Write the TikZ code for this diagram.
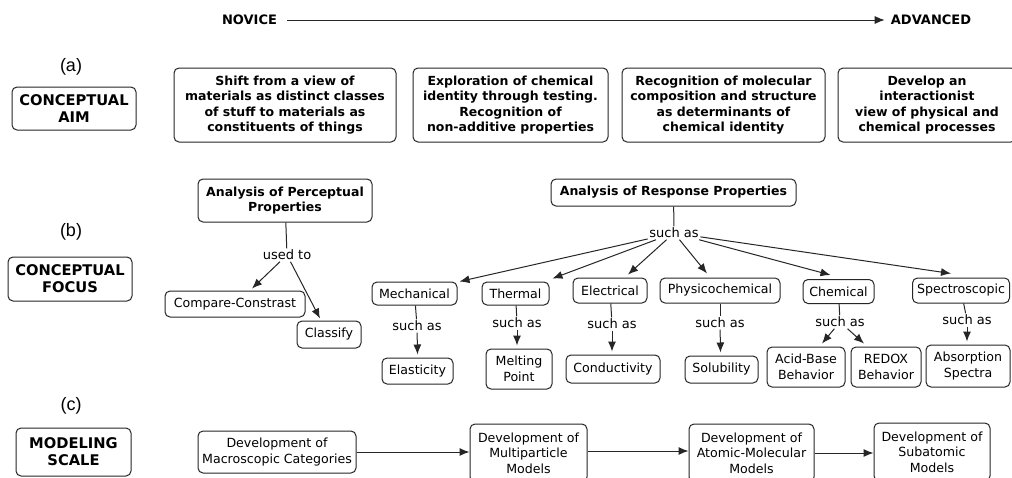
\documentclass[tikz,border=0pt]{standalone}
\usepackage{fontspec}
\setmainfont{DejaVu Sans}
\newfontfamily\arialf{Liberation Sans}
\usetikzlibrary{arrows.meta,calc}
\begin{document}
\begin{tikzpicture}[x=1pt,y=-1pt,
  box/.style={draw=black!85, line width=1pt, rounded corners=5pt, align=center, inner sep=0pt, font=\fontsize{12.6}{15.5}\selectfont},
  bbox/.style={box, font=\fontsize{12.5}{15.3}\selectfont\bfseries},
  lbl/.style={box, font=\fontsize{14.7}{17}\selectfont\bfseries},
  sz/.style 2 args={minimum width=#1pt, minimum height=#2pt},
  lnk/.style={font=\fontsize{13}{15}\selectfont, inner sep=1.5pt},
  arr/.style={draw=black!85, line width=1pt, -{Latex[length=10pt,width=8pt]}},
  ln/.style={draw=black!85, line width=1pt},
  part/.style={font=\arialf\fontsize{18}{20}\selectfont},
  head/.style={font=\fontsize{13}{15}\selectfont\bfseries, inner sep=0pt}
]
\useasboundingbox (0,0) rectangle (1012,477);
\fill[white] (0,0) rectangle (1012,477);
\clip (0,0) rectangle (1012,477);

% header
\node[head] (nov) at (249.5,20) {NOVICE};
\node[head] (adv) at (931,20) {ADVANCED};
\draw[arr] ([xshift=10pt]nov.east) -- ([xshift=-6pt]adv.west);

% row a
\node[part] (pa) at (71,67) {(a)};
\node[lbl, sz={124}{43}] (aim) at (74,108.5) {CONCEPTUAL\\AIM};
\node[bbox, sz={222}{74}] (b1) at (285,105) {Shift from a view of\\materials as distinct classes\\of stuff to materials as\\constituents of things};
\node[bbox, sz={195}{74}] (b2) at (510.5,105) {Exploration of chemical\\identity through testing.\\Recognition of\\non-additive properties};
\node[bbox, sz={203}{74}] (b3) at (723.5,105) {Recognition of molecular\\composition and structure\\as determinants of\\chemical identity};
\node[bbox, sz={178}{74}] (b4) at (927,105) {Develop an\\interactionist\\view of physical and\\chemical processes};

% row b
\node[part] (pb) at (71,232) {(b)};
\node[lbl, sz={124}{44}] (focus) at (70,279) {CONCEPTUAL\\FOCUS};
\node[bbox, sz={174}{43}] (perc) at (285,200.5) {Analysis of Perceptual\\Properties};
\node[lnk] (usedto) at (287,255) {used to};
\node[box, sz={140}{26}] (compare) at (235,304) {Compare-Constrast};
\node[box, sz={64}{27}] (classify) at (329,334.5) {Classify};
\draw[ln] (perc) -- (usedto);
\draw[arr] (usedto) -- ($(compare.north)+(17,-2)$);
\draw[arr] (usedto) -- ($(classify.north)+(-9,-2)$);

\node[bbox, sz={245}{27}] (resp) at (673.5,192.5) {Analysis of Response Properties};
\node[lnk] (sa) at (674,233) {such as};
\draw[ln] (resp) -- (sa);

\node[box, sz={85}{23}] (mech) at (414.5,293.5) {Mechanical};
\node[box, sz={67}{23}] (therm) at (515.5,293.5) {Thermal};
\node[box, sz={74}{25}] (elec) at (610,290.5) {Electrical};
\node[box, sz={120}{25}] (phys) at (720,290.5) {Physicochemical};
\node[box, sz={71}{24}] (chem) at (838.5,291.5) {Chemical};
\node[box, sz={97}{25}] (spec) at (961,290.5) {Spectroscopic};

\draw[arr] (sa) -- ($(mech.north east)+(2,0)$);
\draw[arr] (sa) -- ($(therm.north east)+(3,-3)$);
\draw[arr] (sa) -- ($(elec.north)+(18,-3)$);
\draw[arr] (sa) -- ($(phys.north)+(-13,-4)$);
\draw[arr] (sa) -- ($(chem.north)+(-8,-4)$);
\draw[arr] (sa) -- ($(spec.north)+(-10,-4)$);

\node[lnk] (s1) at (417,326) {such as};
\node[lnk] (s2) at (517,323) {such as};
\node[lnk] (s3) at (612,324) {such as};
\node[lnk] (s4) at (720,323) {such as};
\node[lnk] (s5) at (840,322) {such as};
\node[lnk] (s6) at (967,320) {such as};

\node[box, sz={71}{26}] (elast) at (417.5,371) {Elasticity};
\node[box, sz={66}{40}] (melt) at (519,369) {Melting\\Point};
\node[box, sz={94}{28}] (cond) at (613,369) {Conductivity};
\node[box, sz={73}{27}] (solub) at (721.5,369.5) {Solubility};
\node[box, sz={78}{40}] (acid) at (806,367) {Acid-Base\\Behavior};
\node[box, sz={70}{40}] (redox) at (886,367) {REDOX\\Behavior};
\node[box, sz={84}{42}] (absorp) at (968,366) {Absorption\\Spectra};

\draw[ln] (mech) -- (s1);
\draw[ln] (therm) -- (s2);
\draw[ln] (elec) -- (s3);
\draw[ln] (phys) -- (s4);
\draw[ln] (chem) -- (s5);
\draw[ln] (spec) -- (s6);
\draw[arr] (s1) -- ($(elast.north)+(0,-3)$);
\draw[arr] (s2) -- ($(melt.north)+(-2,-3)$);
\draw[arr] (s3) -- ($(cond.north)+(-1,-3)$);
\draw[arr] (s4) -- ($(solub.north)+(-1,-3)$);
\draw[arr] (s5) -- ($(acid.north)+(16,-3)$);
\draw[arr] (s5) -- ($(redox.north)+(-22,-3)$);
\draw[arr] (s6) -- ($(absorp.north)+(-1,-3)$);

% row c
\node[part] (pc) at (71,406) {(c)};
\node[lbl, sz={115}{48}] (model) at (73.5,452) {MODELING\\SCALE};
\node[box, sz={158}{42}] (macro) at (277,452) {Development of\\Macroscopic Categories};
\node[box, sz={117}{58}] (multi) at (528.5,453) {Development of\\Multiparticle\\Models};
\node[box, sz={125}{58}] (atom) at (751.5,453) {Development of\\Atomic-Molecular\\Models};
\node[box, sz={116}{58}] (sub) at (932,452) {Development of\\Subatomic\\Models};
\draw[arr] (macro.east) -- (macro.east -| multi.west);
\draw[arr] ([yshift=2pt]multi.east) -- ([yshift=2pt]multi.east -| atom.west);
\draw[arr] (atom.east) -- (atom.east -| sub.west);
\end{tikzpicture}
\end{document}
